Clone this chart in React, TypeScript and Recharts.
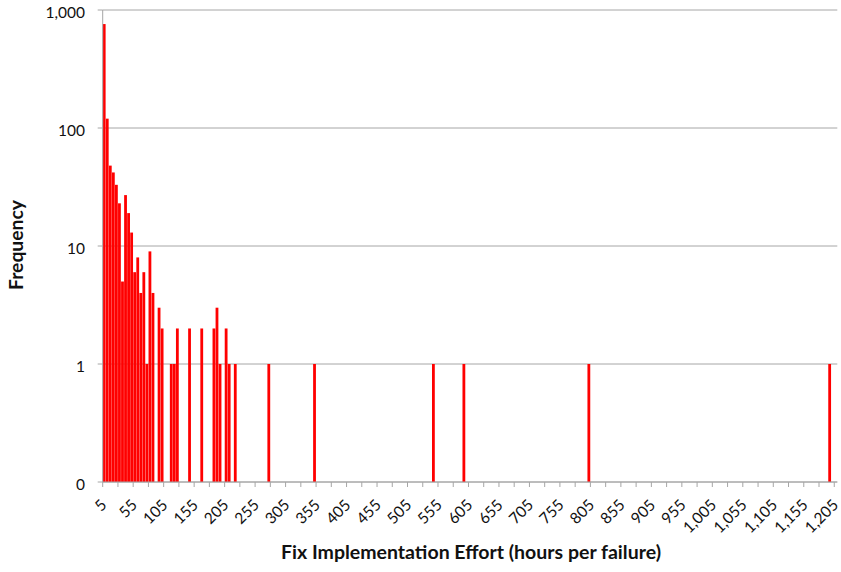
import React from 'react';
import { BarChart, Bar, XAxis, YAxis, CartesianGrid } from 'recharts';

// Histogram bins (hours per failure): 5, 10, ..., 1205
const BIN_FIRST = 5;
const BIN_LAST = 1205;
const BIN_STEP = 5;

// Non-empty bins and their frequency
const effortBins = [
  5, 10, 15, 20, 25, 30, 35, 40, 45, 50, 55, 60, 65, 70, 75, 80, 85,
  95, 100, 115, 120, 125, 145, 165, 185, 190, 195, 205, 210, 220,
  275, 350, 545, 595, 800, 1195,
];
const frequencies = [
  760, 120, 48, 42, 33, 23, 5, 27, 19, 13, 6, 8, 4, 6, 1, 9, 4,
  3, 2, 1, 1, 2, 2, 2, 2, 3, 1, 2, 1, 1,
  1, 1, 1, 1, 1, 1,
];
const yTicks = [0.1, 1, 10, 100, 1000];

const freqByBin = new Map<number, number>();
effortBins.forEach((b, i) => freqByBin.set(b, frequencies[i]));
const binCount = (BIN_LAST - BIN_FIRST) / BIN_STEP + 1;
const table = Array.from({ length: binCount }, (_, i) => {
  const bin = BIN_FIRST + i * BIN_STEP;
  return { bin, freq: freqByBin.has(bin) ? freqByBin.get(bin) : null };
});

const W = 841;
const H = 572;
const MARGIN = { top: 10, right: 3.7, bottom: 0, left: 0 };
const Y_AXIS_W = 102.7;
const X_AXIS_H = 90;
const PLOT_LEFT = MARGIN.left + Y_AXIS_W;
const PLOT_RIGHT = W - MARGIN.right;
const AXIS_Y = H - MARGIN.bottom - X_AXIS_H;
const BAND = (PLOT_RIGHT - PLOT_LEFT) / binCount;
const BAR_W = BAND - 0.25;

const FONT = "Lato, 'Open Sans', sans-serif";
const GRID = '#a6a6a6';
const TEXT = '#111';
const RED = '#ff0000';

const fmt = (v: number) => (v < 1 ? '0' : Number(v).toLocaleString('en-US'));

const XTick = (props: any) => {
  const { x, index, payload } = props;
  const i = typeof index === 'number' ? index : payload.index;
  const half = BAND / 2;
  const tx = x + 3.5;
  const ty = AXIS_Y + 24;
  return (
    <g>
      {i % 5 === 0 && (
        <line x1={x - half} x2={x - half} y1={AXIS_Y} y2={AXIS_Y + 5} stroke={GRID} strokeWidth={1} />
      )}
      {i % 10 === 0 && (
        <text
          x={tx}
          y={ty}
          transform={`rotate(-45 ${tx} ${ty})`}
          textAnchor="end"
          fontSize={15.5}
          fontFamily={FONT}
          fill={TEXT}
        >
          {fmt(payload.value)}
        </text>
      )}
    </g>
  );
};

const YTick = (props: any) => {
  const { y, payload } = props;
  return (
    <text x={85} y={y + 8} textAnchor="end" fontSize={15.5} fontFamily={FONT} fill={TEXT}>
      {fmt(payload.value)}
    </text>
  );
};

const BarShape = (props: any) => {
  const { x, y, width, height } = props;
  if (!height || height <= 0 || !isFinite(y)) return null;
  const cx = x + width / 2;
  return <rect x={cx - BAR_W / 2} y={y} width={BAR_W} height={height} fill={RED} />;
};

const XTitle = () => (
  <text
    x={471}
    y={559}
    textAnchor="middle"
    fontSize={18}
    fontWeight="bold"
    fontFamily={FONT}
    fill={TEXT}
    textLength={380}
    lengthAdjust="spacingAndGlyphs"
  >
    Fix Implementation Effort (hours per failure)
  </text>
);

const YTitle = () => (
  <text
    x={23}
    y={245}
    transform="rotate(-90 23 245)"
    textAnchor="middle"
    fontSize={18}
    fontWeight="bold"
    fontFamily={FONT}
    fill={TEXT}
    textLength={90}
    lengthAdjust="spacingAndGlyphs"
  >
    Frequency
  </text>
);

export default function App() {
  return (
    <div style={{ position: 'absolute', left: 0, top: 0, width: W, height: H, background: '#fff' }}>
      <BarChart width={W} height={H} data={table} margin={MARGIN} barCategoryGap={0} barGap={0}>
        <CartesianGrid vertical={false} stroke={GRID} strokeWidth={1} />
        <XAxis
          dataKey="bin"
          interval={0}
          height={X_AXIS_H}
          tickSize={0}
          tickMargin={0}
          tickLine={false}
          axisLine={{ stroke: GRID, strokeWidth: 1 }}
          tick={XTick}
          label={{ content: XTitle }}
        />
        <YAxis
          scale="log"
          domain={[0.1, 1000]}
          ticks={yTicks}
          allowDataOverflow
          width={Y_AXIS_W}
          tickSize={5}
          tickLine={{ stroke: GRID, strokeWidth: 1 }}
          axisLine={{ stroke: GRID, strokeWidth: 1 }}
          tick={YTick}
          label={{ content: YTitle }}
        />
        <Bar dataKey="freq" fill={RED} barSize={3} shape={BarShape} isAnimationActive={false} />
      </BarChart>
    </div>
  );
}
